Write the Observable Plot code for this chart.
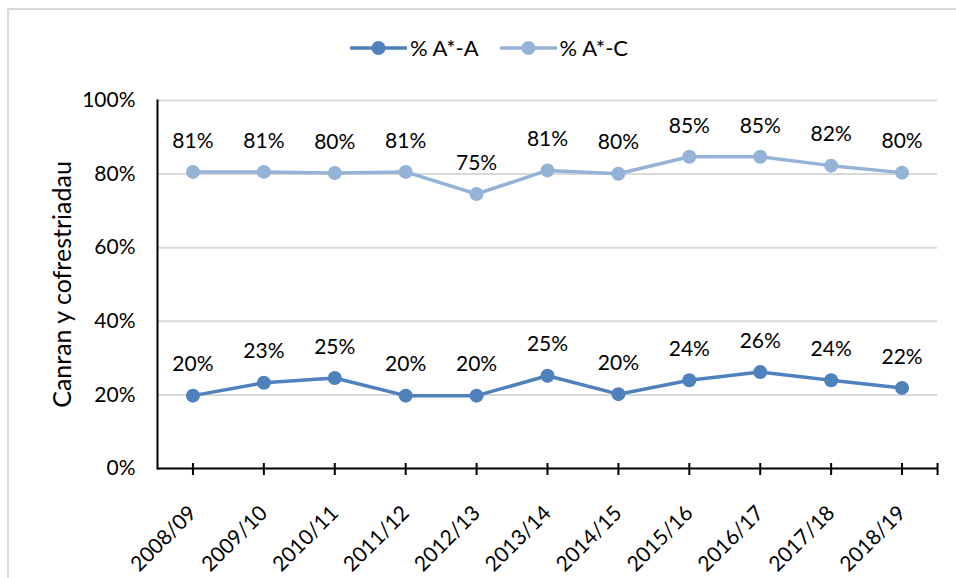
<!DOCTYPE html>
<html>
<head>
<meta charset="utf-8">
<script src="https://cdn.jsdelivr.net/npm/d3@7"></script>
<script src="https://cdn.jsdelivr.net/npm/@observablehq/plot@0.6"></script>
<style>
  html, body { margin: 0; padding: 0; background: #fff; }
  #wrap { position: relative; width: 956px; height: 578px; overflow: hidden; font-family: Lato, "Open Sans", sans-serif; }
  #border { position: absolute; left: 7px; top: 8px; width: 1000px; height: 1000px; border-left: 2px solid #d9d9d9; border-top: 2px solid #d9d9d9; }
  #legend { position: absolute; left: 350px; top: 34px; display: flex; gap: 21px; font-size: 22px; color: #000; align-items: center; }
  .item { display: flex; align-items: center; gap: 3px; }
  #chart { position: absolute; left: 0; top: 0; }
</style>
</head>
<body>
<div id="wrap">
  <div id="border"></div>
  <div id="legend"></div>
  <div id="chart"></div>
</div>
<script>
const categories = ["2008/09","2009/10","2010/11","2011/12","2012/13","2013/14","2014/15","2015/16","2016/17","2017/18","2018/19"];
const seriesNames = ["% A*-A", "% A*-C"];
const seriesColors = ["#4F81BD", "#95B3D7"];
const valuesA = [19.8, 23.3, 24.6, 19.8, 19.8, 25.2, 20.2, 24.0, 26.2, 24.0, 21.9];
const valuesC = [80.6, 80.6, 80.3, 80.6, 74.6, 81.0, 80.1, 84.7, 84.7, 82.3, 80.4];
const yTicks = [0, 20, 40, 60, 80, 100];
const yLabel = "Canran y cofrestriadau";

const data = [
  ...categories.map((c, i) => ({cat: c, value: valuesA[i], series: seriesNames[0]})),
  ...categories.map((c, i) => ({cat: c, value: valuesC[i], series: seriesNames[1]}))
];

const chart = Plot.plot({
  width: 956,
  height: 578,
  marginTop: 100,
  marginBottom: 110,
  marginLeft: 157,
  marginRight: 19,
  style: {fontFamily: "Lato, 'Open Sans', sans-serif", fontSize: "21px", color: "#000", background: "transparent"},
  x: {type: "point", domain: categories, padding: 0.5, round: false},
  y: {domain: [0, 100]},
  color: {domain: seriesNames, range: seriesColors},
  marks: [
    Plot.gridY(yTicks.filter(d => d > 0), {stroke: "#d9d9d9", strokeOpacity: 1, strokeWidth: 2}),
    Plot.axisY(yTicks, {tickSize: 0, tickPadding: 22, tickFormat: d => d + "%", fontSize: 21, label: null}),
    Plot.text([yLabel], {frameAnchor: "left", textAnchor: "middle", rotate: -90, dx: -95, fontSize: 25, fill: "#000"}),
    Plot.axisX({tickSize: 0, tickPadding: 41, tickRotate: -45, fontSize: 21, label: null}),
    Plot.ruleY([0], {stroke: "#000", strokeWidth: 2}),
    Plot.frame({anchor: "left", stroke: "#000", strokeWidth: 2}),
    Plot.tickX(categories, {x: d => d, insetTop: 363, insetBottom: -7, stroke: "#000", strokeWidth: 2}),
    Plot.tickX([categories[categories.length - 1]], {x: d => d, dx: 35.5, insetTop: 363, insetBottom: -7, stroke: "#000", strokeWidth: 2}),
    Plot.line(data, {x: "cat", y: "value", z: "series", stroke: "series", strokeWidth: 3.5}),
    Plot.dot(data, {x: "cat", y: "value", fill: "series", r: 7}),
    Plot.text(data, {x: "cat", y: "value", text: d => Math.round(d.value) + "%", dy: -31, fontSize: 21, fill: "#000"})
  ]
});
document.getElementById("chart").appendChild(chart);

const legend = document.getElementById("legend");
seriesNames.forEach((name, i) => {
  const item = document.createElement("div");
  item.className = "item";
  item.innerHTML = `<svg width="57" height="20"><line x1="1" x2="56" y1="10" y2="10" stroke="${seriesColors[i]}" stroke-width="3.5" stroke-linecap="round"/><circle cx="28.5" cy="10" r="7" fill="${seriesColors[i]}"/></svg><span>${name}</span>`;
  legend.appendChild(item);
});
</script>
</body>
</html>
